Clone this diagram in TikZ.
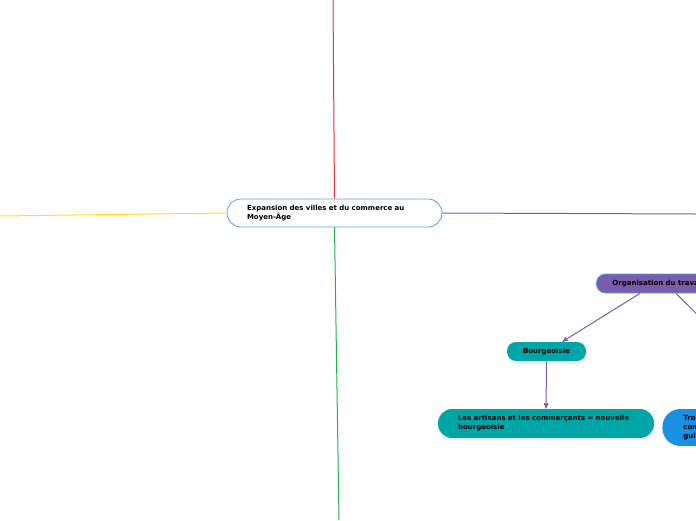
\documentclass[tikz,border=0pt]{standalone}
\usepackage{fontspec}
\setmainfont{DejaVu Sans}
\usetikzlibrary{arrows,shapes,positioning}
\definecolor{mapred}{HTML}{E8303A}
\definecolor{mapyellow}{HTML}{FFE21A}
\definecolor{mapgreen}{HTML}{1DB44A}
\definecolor{mappurple}{HTML}{7A5CAA}
\definecolor{mapborder}{HTML}{4AA8E8}
\definecolor{mapteal}{HTML}{00A5A8}
\definecolor{mapblue}{HTML}{1A90E2}

\begin{document}
\begin{tikzpicture}[x=1pt,y=-1pt,>=stealth',font=\bfseries\fontsize{7}{9}\selectfont]

      \tikzstyle{topic}=[rectangle,draw=mapborder,line width=0.8pt,inner ysep=0pt,align=left]
      \tikzstyle{link}=[mappurple,line width=1pt]

    \useasboundingbox (0,0) rectangle (696,520);
    \clip (0,0) rectangle (696,520);

        \node [topic, fill=white, rounded corners=14pt, minimum height=28pt, inner xsep=20pt, text width=175pt] (main) at (334.5,213)
            {Expansion des villes et du commerce au\\Moyen-Âge}; %central
        \coordinate (top) at (333,0);
        \coordinate (bottom) at (339,520);
        \coordinate (left) at (0,216);
        \coordinate (right) at (696,214);
        \draw [mapred,line width=1pt] (top) -- (main.north);
        \draw [mapgreen,line width=1pt] (main.south) -- (bottom);
        \draw [mapyellow,line width=1pt] (main.west) -- (left);
        \draw [link] (main.east) -- (right);

        \node [topic, fill=mappurple, rounded corners=9pt, minimum height=19pt, inner xsep=16pt, text width=140pt, anchor=west] (orga) at (596,283.5)
            {Organisation du travail}; %branche travail
        \node [topic, fill=mapteal, draw=none, rounded corners=9pt, minimum height=19pt, minimum width=79pt, align=center] (bourg) at (546.5,351.5)
            {Bourgeoisie};
        \node [topic, fill=mapteal, draw=none, rounded corners=14pt, minimum height=29pt, inner xsep=20pt, text width=176pt] (artisans) at (546,423.5)
            {Les artisans et les commerçants = nouvelle\\bourgeoisie};
        \node [topic, fill=mapblue, draw=none, rounded corners=18pt, minimum height=37pt, inner xsep=21pt, text width=108pt, anchor=west] (guildes) at (662,427.5)
            {Tro\\com\\guil};
        \coordinate (suite) at (720,337);

        \draw [link,->] (orga.south west) ++(44pt,0) -- (bourg);
        \draw [link] (orga.south west) ++(80pt,0) -- (suite);
        \draw [link,->] (bourg) -- (artisans);

    \end{tikzpicture}
\end{document}
